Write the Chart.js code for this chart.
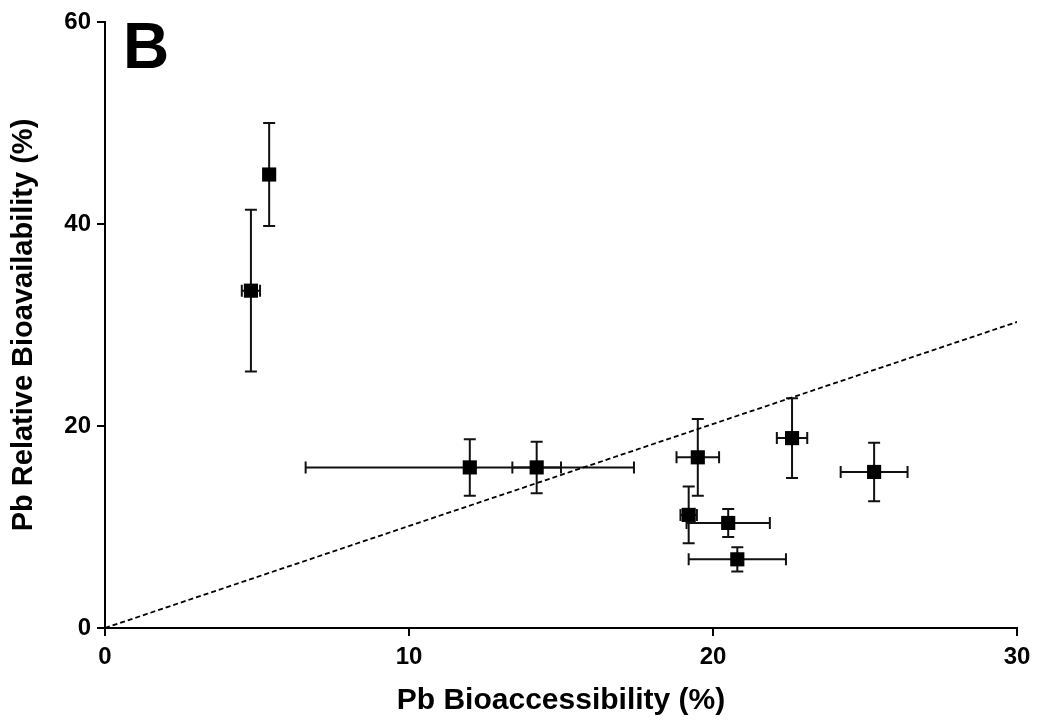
<!DOCTYPE html>
<html>
<head>
<meta charset="utf-8">
<script src="https://cdn.jsdelivr.net/npm/chart.js@4/dist/chart.umd.min.js"></script>
<style>
  html, body { margin: 0; padding: 0; background: #fff; }
  #wrap { width: 1038px; height: 722px; position: relative; }
</style>
</head>
<body>
<div id="wrap"><canvas id="chart"></canvas></div>
<script>
// Pb bioaccessibility vs. relative bioavailability, mean ± SD per sample
const bioaccessibility = [5.4, 4.8, 12.0, 14.2, 19.5, 22.6, 25.3, 19.2, 20.5, 20.8];
const relBioavailability = [44.9, 33.4, 15.9, 15.9, 16.9, 18.8, 15.45, 11.2, 10.4, 6.8];
const bioaccessibilitySD = [0, 0.3, 5.4, 0.8, 0.7, 0.5, 1.1, 0.27, 1.37, 1.6];
const relBioavailabilitySD = [5.1, 8.0, 2.8, 2.55, 3.8, 3.95, 2.9, 2.8, 1.38, 1.2];

// reference line end points
const lineX = [0, 30];
const lineY = [0, 30.3];

const xTicks = [0, 10, 20, 30];
const yTicks = [0, 20, 40, 60];

const panelLabel = 'B';
const xTitle = 'Pb Bioaccessibility (%)';
const yTitle = 'Pb Relative Bioavailability (%)';

const FONT = '"Liberation Sans", Arial, Helvetica, sans-serif';

const points = bioaccessibility.map((x, i) => ({ x: x, y: relBioavailability[i] }));
const linePts = lineX.map((x, i) => ({ x: x, y: lineY[i] }));

// draws horizontal and vertical error bars with end caps
const errorBars = {
  id: 'errorBars',
  beforeDatasetsDraw(chart) {
    const ctx = chart.ctx;
    const xs = chart.scales.x, ys = chart.scales.y;
    const cap = 6;
    ctx.save();
    ctx.strokeStyle = '#111';
    ctx.lineWidth = 2;
    points.forEach((p, i) => {
      const cx = xs.getPixelForValue(p.x);
      const cy = ys.getPixelForValue(p.y);
      const xe = bioaccessibilitySD[i], ye = relBioavailabilitySD[i];
      ctx.beginPath();
      if (xe > 0) {
        const x1 = xs.getPixelForValue(p.x - xe), x2 = xs.getPixelForValue(p.x + xe);
        ctx.moveTo(x1, cy); ctx.lineTo(x2, cy);
        ctx.moveTo(x1, cy - cap); ctx.lineTo(x1, cy + cap);
        ctx.moveTo(x2, cy - cap); ctx.lineTo(x2, cy + cap);
      }
      if (ye > 0) {
        const y1 = ys.getPixelForValue(p.y - ye), y2 = ys.getPixelForValue(p.y + ye);
        ctx.moveTo(cx, y1); ctx.lineTo(cx, y2);
        ctx.moveTo(cx - cap, y1); ctx.lineTo(cx + cap, y1);
        ctx.moveTo(cx - cap, y2); ctx.lineTo(cx + cap, y2);
      }
      ctx.stroke();
    });
    ctx.restore();
  }
};

// panel letter in the upper-left of the plot area
const panelText = {
  id: 'panelText',
  afterDraw(chart) {
    const ctx = chart.ctx;
    ctx.save();
    ctx.fillStyle = '#000';
    ctx.font = 'bold 64px ' + FONT;
    ctx.textBaseline = 'alphabetic';
    ctx.textAlign = 'left';
    ctx.fillText(panelLabel, chart.chartArea.left + 18, chart.chartArea.top + 46);
    ctx.restore();
  }
};

new Chart(document.getElementById('chart'), {
  type: 'scatter',
  data: {
    datasets: [
      {
        data: linePts,
        showLine: true,
        borderColor: '#000',
        borderWidth: 1.8,
        borderDash: [5, 3],
        pointRadius: 0,
        fill: false,
        order: 2
      },
      {
        data: points,
        pointStyle: 'rect',
        pointRadius: 10,
        backgroundColor: '#000',
        borderColor: '#000',
        borderWidth: 0,
        order: 1
      }
    ]
  },
  options: {
    responsive: true,
    maintainAspectRatio: false,
    animation: false,
    layout: { padding: { top: 22, right: 21, left: 0, bottom: 0 } },
    plugins: { legend: { display: false }, tooltip: { enabled: false } },
    scales: {
      x: {
        type: 'linear',
        min: 0, max: 30,
        afterBuildTicks(scale) { scale.ticks = xTicks.map(v => ({ value: v })); },
        afterFit(scale) { scale.height = 94; },
        border: { display: true, color: '#000', width: 2 },
        grid: { drawOnChartArea: false, drawTicks: true, tickLength: 8, tickWidth: 2, tickColor: '#000', lineWidth: 2, color: '#000' },
        ticks: { color: '#000', padding: 7, font: { family: FONT, size: 24, weight: 'bold' } },
        title: { display: true, text: xTitle, color: '#000', padding: { top: 0, bottom: 3 }, font: { family: FONT, size: 30, weight: 'bold' } }
      },
      y: {
        type: 'linear',
        min: 0, max: 60,
        afterBuildTicks(scale) { scale.ticks = yTicks.map(v => ({ value: v })); },
        afterFit(scale) { scale.width = 105; },
        border: { display: true, color: '#000', width: 2 },
        grid: { drawOnChartArea: false, drawTicks: true, tickLength: 8, tickWidth: 2, tickColor: '#000', lineWidth: 2, color: '#000' },
        ticks: { color: '#000', padding: 6, font: { family: FONT, size: 24, weight: 'bold' } },
        title: { display: true, text: yTitle, color: '#000', padding: { top: 7, bottom: 0 }, font: { family: FONT, size: 29, weight: 'bold' } }
      }
    }
  },
  plugins: [errorBars, panelText]
});
</script>
</body>
</html>
